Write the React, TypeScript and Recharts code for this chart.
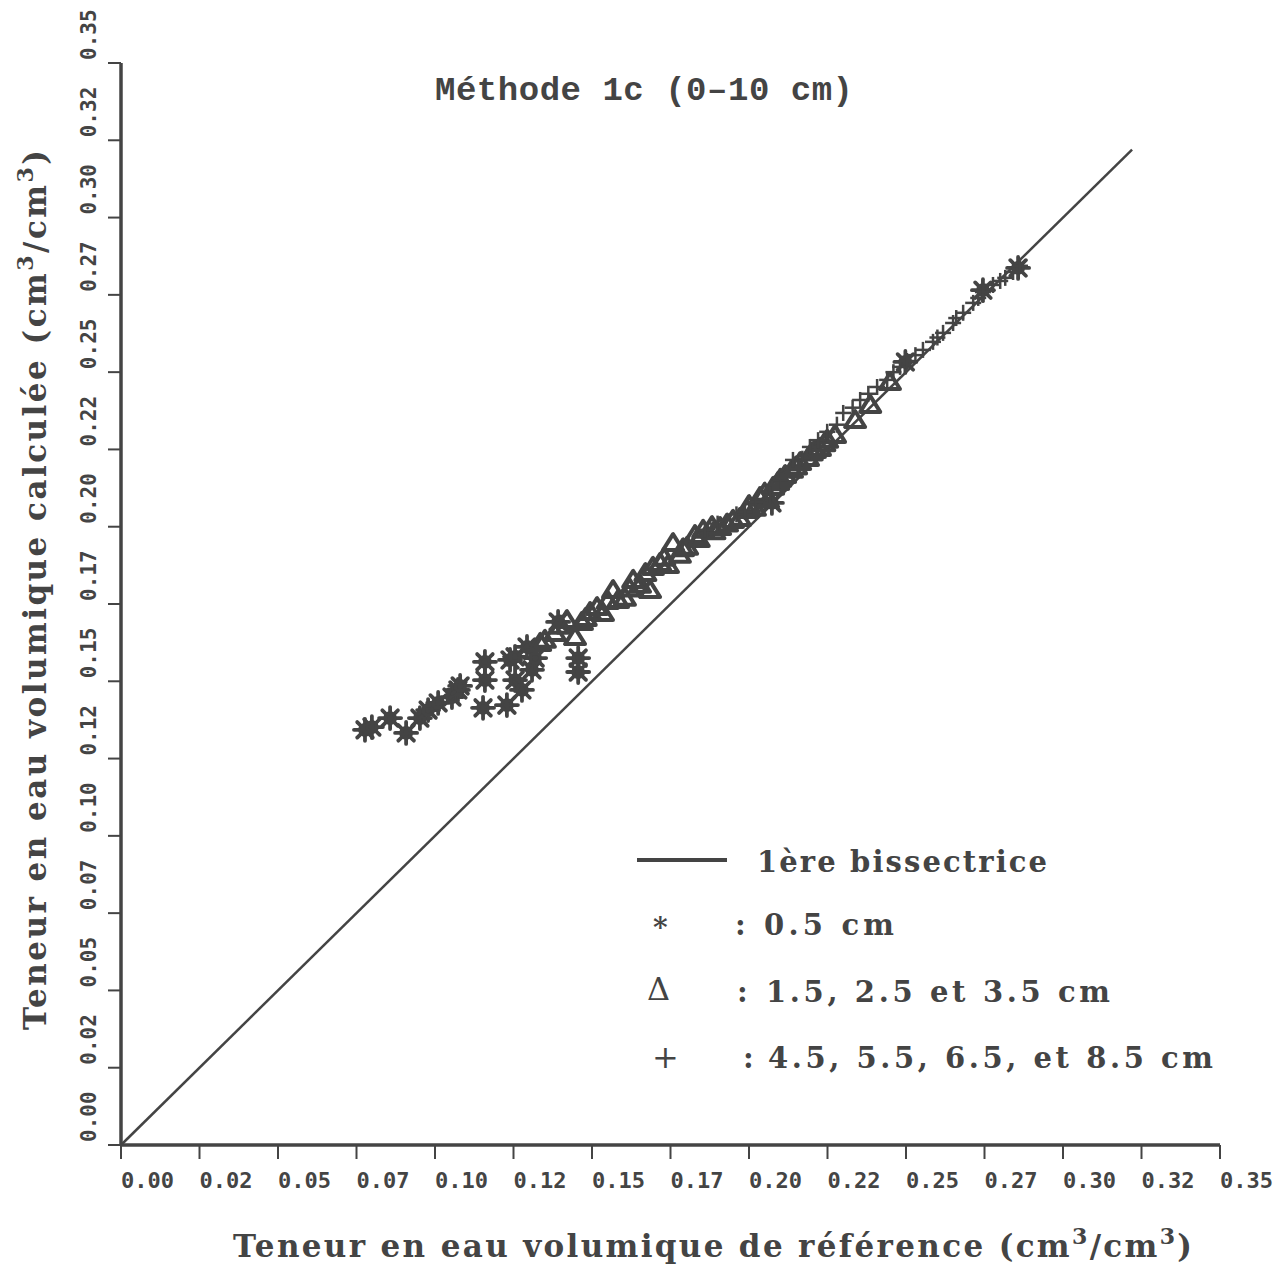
import React from 'react';
import {
  ScatterChart,
  Scatter,
  XAxis,
  YAxis,
  ReferenceLine,
} from 'recharts';

const axisTicks = [0, 0.025, 0.05, 0.075, 0.1, 0.125, 0.15, 0.175, 0.2, 0.225, 0.25, 0.275, 0.3, 0.325, 0.35];
const tickLabels = ['0.00', '0.02', '0.05', '0.07', '0.10', '0.12', '0.15', '0.17', '0.20', '0.22', '0.25', '0.27', '0.30', '0.32', '0.35'];

const bisectorEnd = 0.322;

// 0.5 cm
const starPoints = [
  [0.0777, 0.1343], [0.0799, 0.1352], [0.0857, 0.1381], [0.0908, 0.1333], [0.0952, 0.1381],
  [0.0978, 0.1407], [0.1010, 0.143], [0.1054, 0.1449], [0.1073, 0.1472], [0.108, 0.1485],
  [0.1159, 0.1563], [0.1159, 0.1504], [0.1153, 0.1414], [0.1229, 0.1423], [0.1239, 0.1569],
  [0.1255, 0.1504], [0.1277, 0.1472], [0.1255, 0.1579], [0.1293, 0.1611], [0.1309, 0.1537],
  [0.1319, 0.1575], [0.1392, 0.1692], [0.1456, 0.1575], [0.1456, 0.153], [0.2073, 0.2077],
  [0.2498, 0.2533], [0.2745, 0.2765], [0.2857, 0.2837],
];

// 1.5, 2.5 et 3.5 cm
const trianglePoints = [
  [0.1335, 0.1624], [0.135, 0.1634], [0.1382, 0.1656], [0.14, 0.168], [0.142, 0.1698],
  [0.1446, 0.1643], [0.1468, 0.1692], [0.148, 0.1705], [0.1494, 0.1724], [0.1516, 0.174],
  [0.1535, 0.1721], [0.155, 0.176], [0.1567, 0.1795], [0.1583, 0.1763], [0.1605, 0.177],
  [0.162, 0.18], [0.1631, 0.1828], [0.1653, 0.1812], [0.167, 0.185], [0.1685, 0.1795],
  [0.1694, 0.187], [0.1717, 0.1883], [0.173, 0.19], [0.1742, 0.1876], [0.1758, 0.1947],
  [0.178, 0.1909], [0.179, 0.193], [0.1803, 0.1935], [0.1828, 0.1973], [0.184, 0.196],
  [0.1854, 0.199], [0.1882, 0.2002], [0.189, 0.1985], [0.1908, 0.1999], [0.193, 0.201],
  [0.1949, 0.2022], [0.1971, 0.2028], [0.1994, 0.2054], [0.2, 0.207], [0.2019, 0.2061],
  [0.2035, 0.2096], [0.205, 0.211], [0.2061, 0.2087], [0.2077, 0.2129], [0.2093, 0.2145],
  [0.21, 0.2155], [0.2115, 0.2167], [0.2137, 0.2184], [0.215, 0.2195], [0.2163, 0.2209],
  [0.2188, 0.2222], [0.22, 0.224], [0.221, 0.2248], [0.2226, 0.2255], [0.224, 0.227],
  [0.2249, 0.2281], [0.2274, 0.2297], [0.2338, 0.2345], [0.2386, 0.2394], [0.2449, 0.2468],
];

// 4.5, 5.5, 6.5 et 8.5 cm
const plusPoints = [
  [0.186, 0.199], [0.19, 0.201], [0.196, 0.204], [0.1987, 0.2048], [0.202, 0.208],
  [0.2067, 0.2103], [0.21, 0.215], [0.214, 0.2216], [0.217, 0.222], [0.2194, 0.2258],
  [0.222, 0.228], [0.2249, 0.2307], [0.228, 0.233], [0.23, 0.2368], [0.233, 0.2385],
  [0.2354, 0.241], [0.238, 0.243], [0.2408, 0.2452], [0.244, 0.2475], [0.246, 0.25],
  [0.2481, 0.2517], [0.2503, 0.2536], [0.253, 0.2555], [0.2554, 0.2572], [0.2586, 0.2598],
  [0.26, 0.2612], [0.2618, 0.2627], [0.265, 0.2659], [0.266, 0.2675], [0.2682, 0.2692],
  [0.2714, 0.2724], [0.273, 0.274], [0.2745, 0.2759], [0.2777, 0.2782], [0.28, 0.2795],
  [0.2816, 0.2805], [0.2841, 0.2824], [0.2863, 0.2844],
];

const INK = '#444444';

const toRows = (pts: number[][]) => pts.map(([x, y]) => ({ x, y }));

const Asterisk = (props: any) => {
  const { cx, cy } = props;
  const r = 11;
  return (
    <g stroke={INK} strokeWidth={3.8} strokeLinecap="round">
      {[0, 45, 90, 135].map((a) => {
        const dx = r * Math.cos((a * Math.PI) / 180);
        const dy = r * Math.sin((a * Math.PI) / 180);
        return <line key={a} x1={cx - dx} y1={cy - dy} x2={cx + dx} y2={cy + dy} />;
      })}
      <circle cx={cx} cy={cy} r={5} fill={INK} />
    </g>
  );
};

const Triangle = (props: any) => {
  const { cx, cy } = props;
  return (
    <polygon
      points={`${cx},${cy - 9} ${cx - 10},${cy + 7} ${cx + 10},${cy + 7}`}
      fill="none"
      stroke={INK}
      strokeWidth={4}
      strokeLinejoin="round"
    />
  );
};

const Plus = (props: any) => {
  const { cx, cy } = props;
  return (
    <g stroke={INK} strokeWidth={2.5}>
      <line x1={cx - 8} y1={cy} x2={cx + 8} y2={cy} />
      <line x1={cx} y1={cy - 8} x2={cx} y2={cy + 8} />
    </g>
  );
};

const XTick = (props: any) => {
  const { x, y, index } = props;
  return (
    <text x={x} y={y + 29} fontFamily="DejaVu Sans Mono" fontWeight="bold" fontSize={22} fill={INK} textAnchor="start">
      {tickLabels[index]}
    </text>
  );
};

const YTick = (props: any) => {
  const { x, y, index } = props;
  const bx = x - 12;
  const by = y - 3;
  return (
    <text
      x={bx}
      y={by}
      transform={`rotate(-90, ${bx}, ${by})`}
      fontFamily="DejaVu Sans Mono"
      fontWeight="bold"
      fontSize={21}
      fill={INK}
      textAnchor="start"
    >
      {tickLabels[index]}
    </text>
  );
};

const legendFont = { fontFamily: 'DejaVu Serif', fontWeight: 'bold', fontSize: 29, fill: INK } as const;
const titleFont = { fontFamily: 'DejaVu Serif', fontWeight: 'bold', fontSize: 31, fill: INK } as const;

export default function App() {
  return (
    <div style={{ position: 'absolute', left: 0, top: 0, width: 1283, height: 1267, background: '#fff' }}>
      <ScatterChart width={1283} height={1267} margin={{ top: 63, right: 63, left: 61, bottom: 62 }}>
        <XAxis
          type="number"
          dataKey="x"
          domain={[0, 0.35]}
          ticks={axisTicks}
          interval={0}
          height={60}
          tickSize={14}
          tickMargin={0}
          axisLine={{ stroke: INK, strokeWidth: 3.5 }}
          tickLine={{ stroke: INK, strokeWidth: 2 }}
          tick={<XTick />}
          allowDataOverflow
        />
        <YAxis
          type="number"
          dataKey="y"
          domain={[0, 0.35]}
          ticks={axisTicks}
          interval={0}
          width={60}
          tickSize={13}
          tickMargin={0}
          axisLine={{ stroke: INK, strokeWidth: 3.5 }}
          tickLine={{ stroke: INK, strokeWidth: 2 }}
          tick={<YTick />}
          allowDataOverflow
        />
        <ReferenceLine
          segment={[{ x: 0, y: 0 }, { x: bisectorEnd, y: bisectorEnd }]}
          stroke={INK}
          strokeWidth={2.5}
          ifOverflow="visible"
        />
        <Scatter name="0.5 cm" data={toRows(starPoints)} shape={<Asterisk />} isAnimationActive={false} />
        <Scatter name="1.5, 2.5 et 3.5 cm" data={toRows(trianglePoints)} shape={<Triangle />} isAnimationActive={false} />
        <Scatter name="4.5, 5.5, 6.5, et 8.5 cm" data={toRows(plusPoints)} shape={<Plus />} isAnimationActive={false} />
      </ScatterChart>
      <svg
        width={1283}
        height={1267}
        style={{ position: 'absolute', left: 0, top: 0, pointerEvents: 'none' }}
      >
        <text x={435} y={100} textLength={418} fontFamily="Liberation Mono" fontWeight="bold" fontSize={34} fill={INK}>
          Méthode 1c (0–10 cm)
        </text>
        <text x={233} y={1257} textLength={959} {...titleFont}>
          Teneur en eau volumique de référence (cm<tspan dy={-13} fontSize={22}>3</tspan>
          <tspan dy={13}>/cm</tspan>
          <tspan dy={-13} fontSize={22}>3</tspan>
          <tspan dy={13}>)</tspan>
        </text>
        <text x={46} y={1030} textLength={880} transform="rotate(-90, 46, 1030)" {...titleFont}>
          Teneur en eau volumique calculée (cm<tspan dy={-13} fontSize={22}>3</tspan>
          <tspan dy={13}>/cm</tspan>
          <tspan dy={-13} fontSize={22}>3</tspan>
          <tspan dy={13}>)</tspan>
        </text>

        {/* legend */}
        <line x1={637} y1={860} x2={727} y2={860} stroke={INK} strokeWidth={4} />
        <text x={757} y={872} textLength={290} {...legendFont}>1ère bissectrice</text>
        <text x={653} y={937} {...legendFont} fontSize={28}>*</text>
        <text x={735} y={935} {...legendFont}>:</text>
        <text x={764} y={935} textLength={130} {...legendFont}>0.5 cm</text>
        <text x={647} y={1000} {...legendFont} fontWeight="normal" fontSize={32}>Δ</text>
        <text x={737} y={1002} {...legendFont}>:</text>
        <text x={766} y={1002} textLength={344} {...legendFont}>1.5, 2.5 et 3.5 cm</text>
        <text x={652} y={1068} {...legendFont} fontWeight="normal" fontSize={32}>+</text>
        <text x={743} y={1068} {...legendFont}>:</text>
        <text x={768} y={1068} textLength={445} {...legendFont}>4.5, 5.5, 6.5, et 8.5 cm</text>
      </svg>
    </div>
  );
}
